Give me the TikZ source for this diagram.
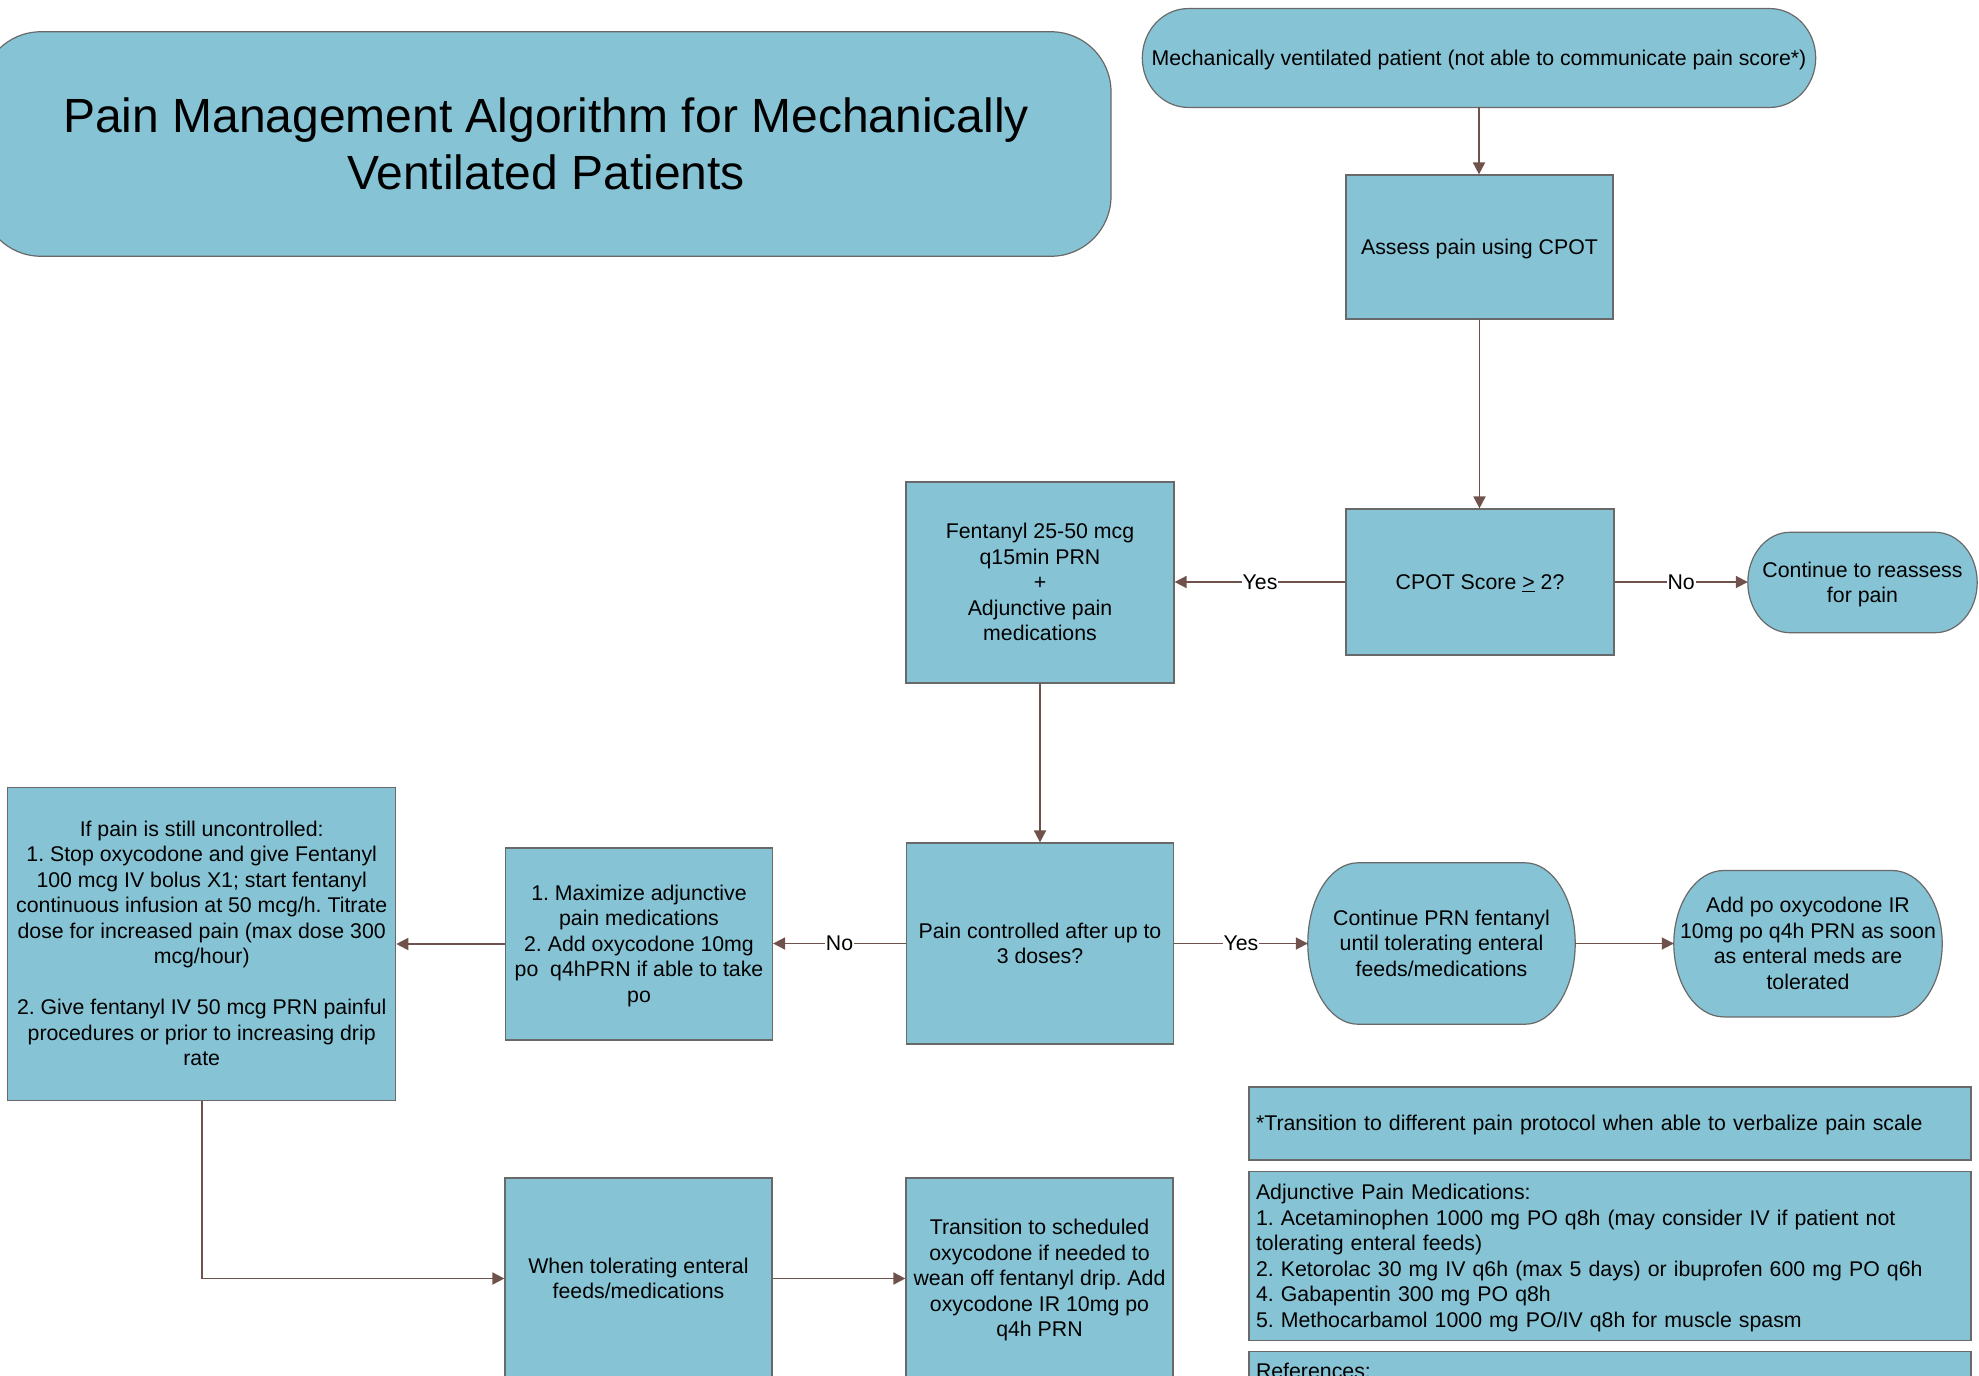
\documentclass[tikz,border=0pt]{standalone}
\usepackage{fontspec}
\setmainfont{Liberation Sans}
\frenchspacing
\usetikzlibrary{arrows.meta,calc,backgrounds}
\definecolor{boxfill}{RGB}{134,196,213}
\definecolor{boxline}{RGB}{105,105,105}
\definecolor{arrowc}{RGB}{112,82,76}
% text block: lines centred, lowered by #1 without changing the box size
\newcommand\tb[2][2.3pt]{\raisebox{-#1}[\height][\depth]{\begin{tabular}{@{}c@{}}#2\end{tabular}}}
\newcommand\tbl[2][2.3pt]{\raisebox{-#1}[\height][\depth]{\begin{tabular}{@{}l@{}}#2\end{tabular}}}
\tikzset{
  base/.style={inner sep=0pt, align=center, text=black, font=\fontsize{21.3}{25.5}\selectfont},
  rectbox/.style={base, draw=boxline, fill=boxfill, line width=1.2pt},
  stad/.style={base},
  notebox/.style={rectbox, minimum width=722pt, text width=708pt, align=left},
  conn/.style={draw=arrowc, line width=1.8pt, -{Triangle[length=12pt,width=12pt]}},
  lab/.style={fill=white, inner xsep=1pt, inner ysep=0pt, text=black, font=\fontsize{21.3}{25.5}\selectfont},
  stadpath/.style={draw=boxline, fill=boxfill, line width=1.2pt}
}
\newcommand\stadshape[2]{%
  \path[stadpath] let \p1=(#1.north east), \p2=(#1.south west), \n1={(\y1-\y2)/2} in
    (\x2+#2pt,\y1) -- (\x1-#2pt,\y1)
    arc[start angle=90, end angle=-90, x radius=#2pt, y radius=\n1]
    -- (\x2+#2pt,\y2)
    arc[start angle=270, end angle=90, x radius=#2pt, y radius=\n1] -- cycle;}
\begin{document}
\begin{tikzpicture}[x=1pt,y=-1pt]
\useasboundingbox (0,0) rectangle (1979,1376);

% title
\node[rectbox, rounded corners=60pt, minimum width=1130pt, minimum height=224.5pt,
      font=\fontsize{48}{57}\selectfont] (title) at (546,144)
  {\tb[5.2pt]{Pain Management Algorithm for Mechanically\\Ventilated Patients}};

% main flow
\node[stad, minimum width=673pt, minimum height=98.5pt] (start) at (1479,58)
  {\tb{Mechanically ventilated patient (not able to communicate pain score*)}};
\node[rectbox, minimum width=267pt, minimum height=144pt] (assess) at (1479.5,247)
  {\tb{Assess pain using CPOT}};
\node[rectbox, minimum width=268pt, minimum height=146pt] (cpot) at (1480,582)
  {\tb{CPOT Score \underline{>} 2?}};
\node[stad, minimum width=229pt, minimum height=100pt] (reassess) at (1862.5,582.5)
  {\tb{Continue to reassess\\for pain}};
\node[rectbox, minimum width=268pt, minimum height=201pt] (fent) at (1040,582.5)
  {\tb{Fentanyl 25-50 mcg\\q15min PRN\\+\\Adjunctive pain\\medications}};
\node[rectbox, minimum width=267pt, minimum height=201pt] (ctrl) at (1040,943.5)
  {\tb{Pain controlled after up to\\3 doses?}};
\node[rectbox, minimum width=267pt, minimum height=192pt] (maxi) at (639,944)
  {\tb{1. Maximize adjunctive\\pain medications\\2. Add oxycodone 10mg\\po\ \ q4hPRN if able to take\\po}};
\node[rectbox, minimum width=388pt, minimum height=313pt] (ifpain) at (201.7,943.7)
  {\tb{If pain is still uncontrolled:\\1. Stop oxycodone and give Fentanyl\\100 mcg IV bolus X1; start fentanyl\\continuous infusion at 50 mcg/h. Titrate\\dose for increased pain (max dose 300\\mcg/hour)\\[25.5pt]2. Give fentanyl IV 50 mcg PRN painful\\procedures or prior to increasing drip\\rate}};
\node[stad, minimum width=267pt, minimum height=161pt] (prn) at (1441.5,943.5)
  {\tb{Continue PRN fentanyl\\until tolerating enteral\\feeds/medications}};
\node[stad, minimum width=268pt, minimum height=146pt] (addpo) at (1808,943.7)
  {\tb{Add po oxycodone IR\\10mg po q4h PRN as soon\\as enteral meds are\\tolerated}};
\node[rectbox, minimum width=267pt, minimum height=201pt] (when) at (638.5,1278.5)
  {\tb{When tolerating enteral\\feeds/medications}};
\node[rectbox, minimum width=267pt, minimum height=201pt] (trans) at (1039.5,1278.5)
  {\tb{Transition to scheduled\\oxycodone if needed to\\wean off fentanyl drip. Add\\oxycodone IR 10mg po\\q4h PRN}};

% notes
\node[notebox, minimum height=73pt] (note1) at (1610,1123.5)
  {\tbl{*Transition to different pain protocol when able to verbalize pain scale}};
\node[notebox, minimum height=168.5pt] (note2) at (1610,1256)
  {\tbl{Adjunctive Pain Medications:\\1. Acetaminophen 1000 mg PO q8h (may consider IV if patient not\\tolerating enteral feeds)\\2. Ketorolac 30 mg IV q6h (max 5 days) or ibuprofen 600 mg PO q6h\\4. Gabapentin 300 mg PO q8h\\5. Methocarbamol 1000 mg PO/IV q8h for muscle spasm}};
\node[notebox, minimum height=39.6pt] (note3) at (1610,1371.5)
  {\tbl{References:}};

% stadium outlines
\begin{scope}[on background layer]
  \stadshape{start}{46}
  \stadshape{reassess}{42}
  \stadshape{prn}{50}
  \stadshape{addpo}{50}
\end{scope}

% connectors
\draw[conn] (start.south) -- (start.south |- assess.north);
\draw[conn] (assess.south) -- (assess.south |- cpot.north);
\draw[conn] (cpot.west) -- node[lab]{Yes} (cpot.west -| fent.east);
\draw[conn] (cpot.east) -- node[lab]{No} (cpot.east -| reassess.west);
\draw[conn] (fent.south) -- (fent.south |- ctrl.north);
\draw[conn] (ctrl.west) -- node[lab]{No} (ctrl.west -| maxi.east);
\draw[conn] (ctrl.east) -- node[lab]{Yes} (ctrl.east -| prn.west);
\draw[conn] (prn.east) -- (prn.east -| addpo.west);
\draw[conn] (maxi.west) -- (maxi.west -| ifpain.east);
\draw[conn] (ifpain.south) |- (when.west);
\draw[conn] (when.east) -- (when.east -| trans.west);
\end{tikzpicture}
\end{document}
